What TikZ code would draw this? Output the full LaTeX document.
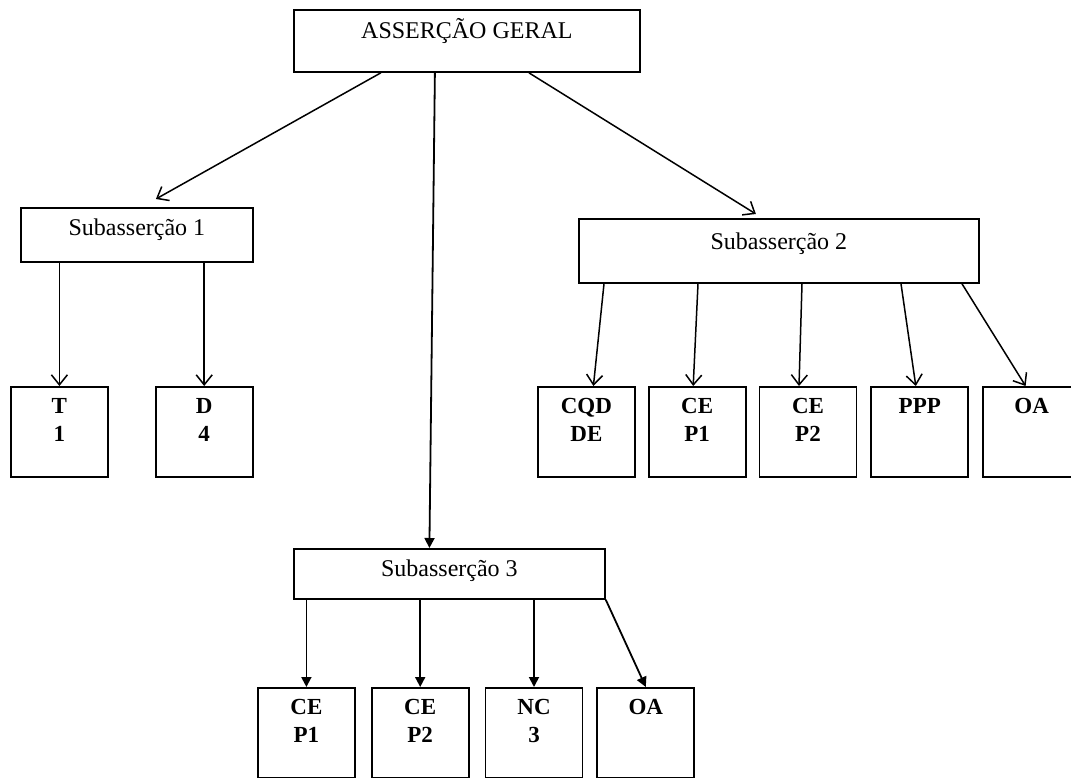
\documentclass[tikz,border=0pt]{standalone}
\usepackage{fontspec}
\setmainfont{Liberation Serif}
\usetikzlibrary{positioning, arrows.meta}
\tikzstyle{Box} = [rectangle, draw, line width=0.9pt, inner sep=0pt,
anchor=north west, align=center, font=\fontsize{12}{14}\selectfont]
\tikzstyle{Kid} = [Box, minimum width=48.5pt, text height=27.5pt, text depth=17.5pt,
font=\fontsize{11.5}{14}\selectfont\bfseries]
\tikzstyle{OneLine} = [text height=13.5pt, text depth=31.5pt]
\tikzstyle{Arrow} = [line width=0.75pt, -{Straight Barb[length=5pt, width=8pt]}]
\tikzstyle{Filled} = [line width=0.9pt, -{Triangle[length=5pt, width=5pt]}]

\begin{document}
\begin{tikzpicture}[x=0.5pt, y=-0.5pt]
    \useasboundingbox (0,0) rectangle (1071,777);
    \node [Box, minimum width=173pt, text height=14.5pt, text depth=16.5pt] (1) at (293,9) {ASSERÇÃO GERAL};
    \node [Box, minimum width=116pt, text height=14pt, text depth=13pt] (2) at (20,207) {Subasserção 1};
    \node [Box, minimum width=200pt, text height=15.5pt, text depth=16.5pt] (3) at (578,218) {Subasserção 2};
    \node [Box, minimum width=155.5pt, text height=14pt, text depth=11pt] (4) at (293,548) {Subasserção 3};
    % Subasserção 1
    \node [Kid] (5) at (10,386) {T\\1};
    \node [Kid, right=23pt of 5] (6) {D\\4};
    % Subasserção 2
    \node [Kid] (7) at (537,386) {CQD\\DE};
    \node [Kid, right=6pt of 7] (8) {CE\\P1};
    \node [Kid, right=6pt of 8] (9) {CE\\P2};
    \node [Kid, OneLine, right=6.5pt of 9] (10) {PPP};
    \node [Kid, OneLine, right=6.5pt of 10] (11) {OA};
    % Subasserção 3
    \node [Kid] (12) at (257,687) {CE\\P1};
    \node [Kid, right=7.5pt of 12] (13) {CE\\P2};
    \node [Kid, right=7.5pt of 13] (14) {NC\\3};
    \node [Kid, OneLine, right=6.5pt of 14] (15) {OA};
    \draw [Arrow] ([xshift=-43pt]1.south) -- ([xshift=9.5pt, yshift=4pt]2.north);
    \draw [Arrow] ([xshift=31pt]1.south) -- ([xshift=-11.5pt, yshift=2pt]3.north);
    \draw [Filled] ([xshift=-16pt]1.south) -- ([xshift=-10pt]4.north);
    \draw [Arrow] (2.south -| 5.north) -- (5.north);
    \draw [Arrow] (2.south -| 6.north) -- (6.north);
    \draw [Arrow] ([xshift=13pt]3.south west) -- ([xshift=3.5pt]7.north);
    \draw [Arrow] ([xshift=60pt]3.south west) -- ([xshift=-2pt]8.north);
    \draw [Arrow] ([xshift=112pt]3.south west) -- ([xshift=-4.5pt]9.north);
    \draw [Arrow] ([xshift=161.5pt]3.south west) -- ([xshift=-2pt]10.north);
    \draw [Arrow] ([xshift=192pt]3.south west) -- ([xshift=-3pt]11.north);
    \draw [Filled] (4.south -| 12.north) -- (12.north);
    \draw [Filled] (4.south -| 13.north) -- (13.north);
    \draw [Filled] (4.south -| 14.north) -- (14.north);
    \draw [Filled] (4.south east) -- (15.north);
\end{tikzpicture}
\end{document}
